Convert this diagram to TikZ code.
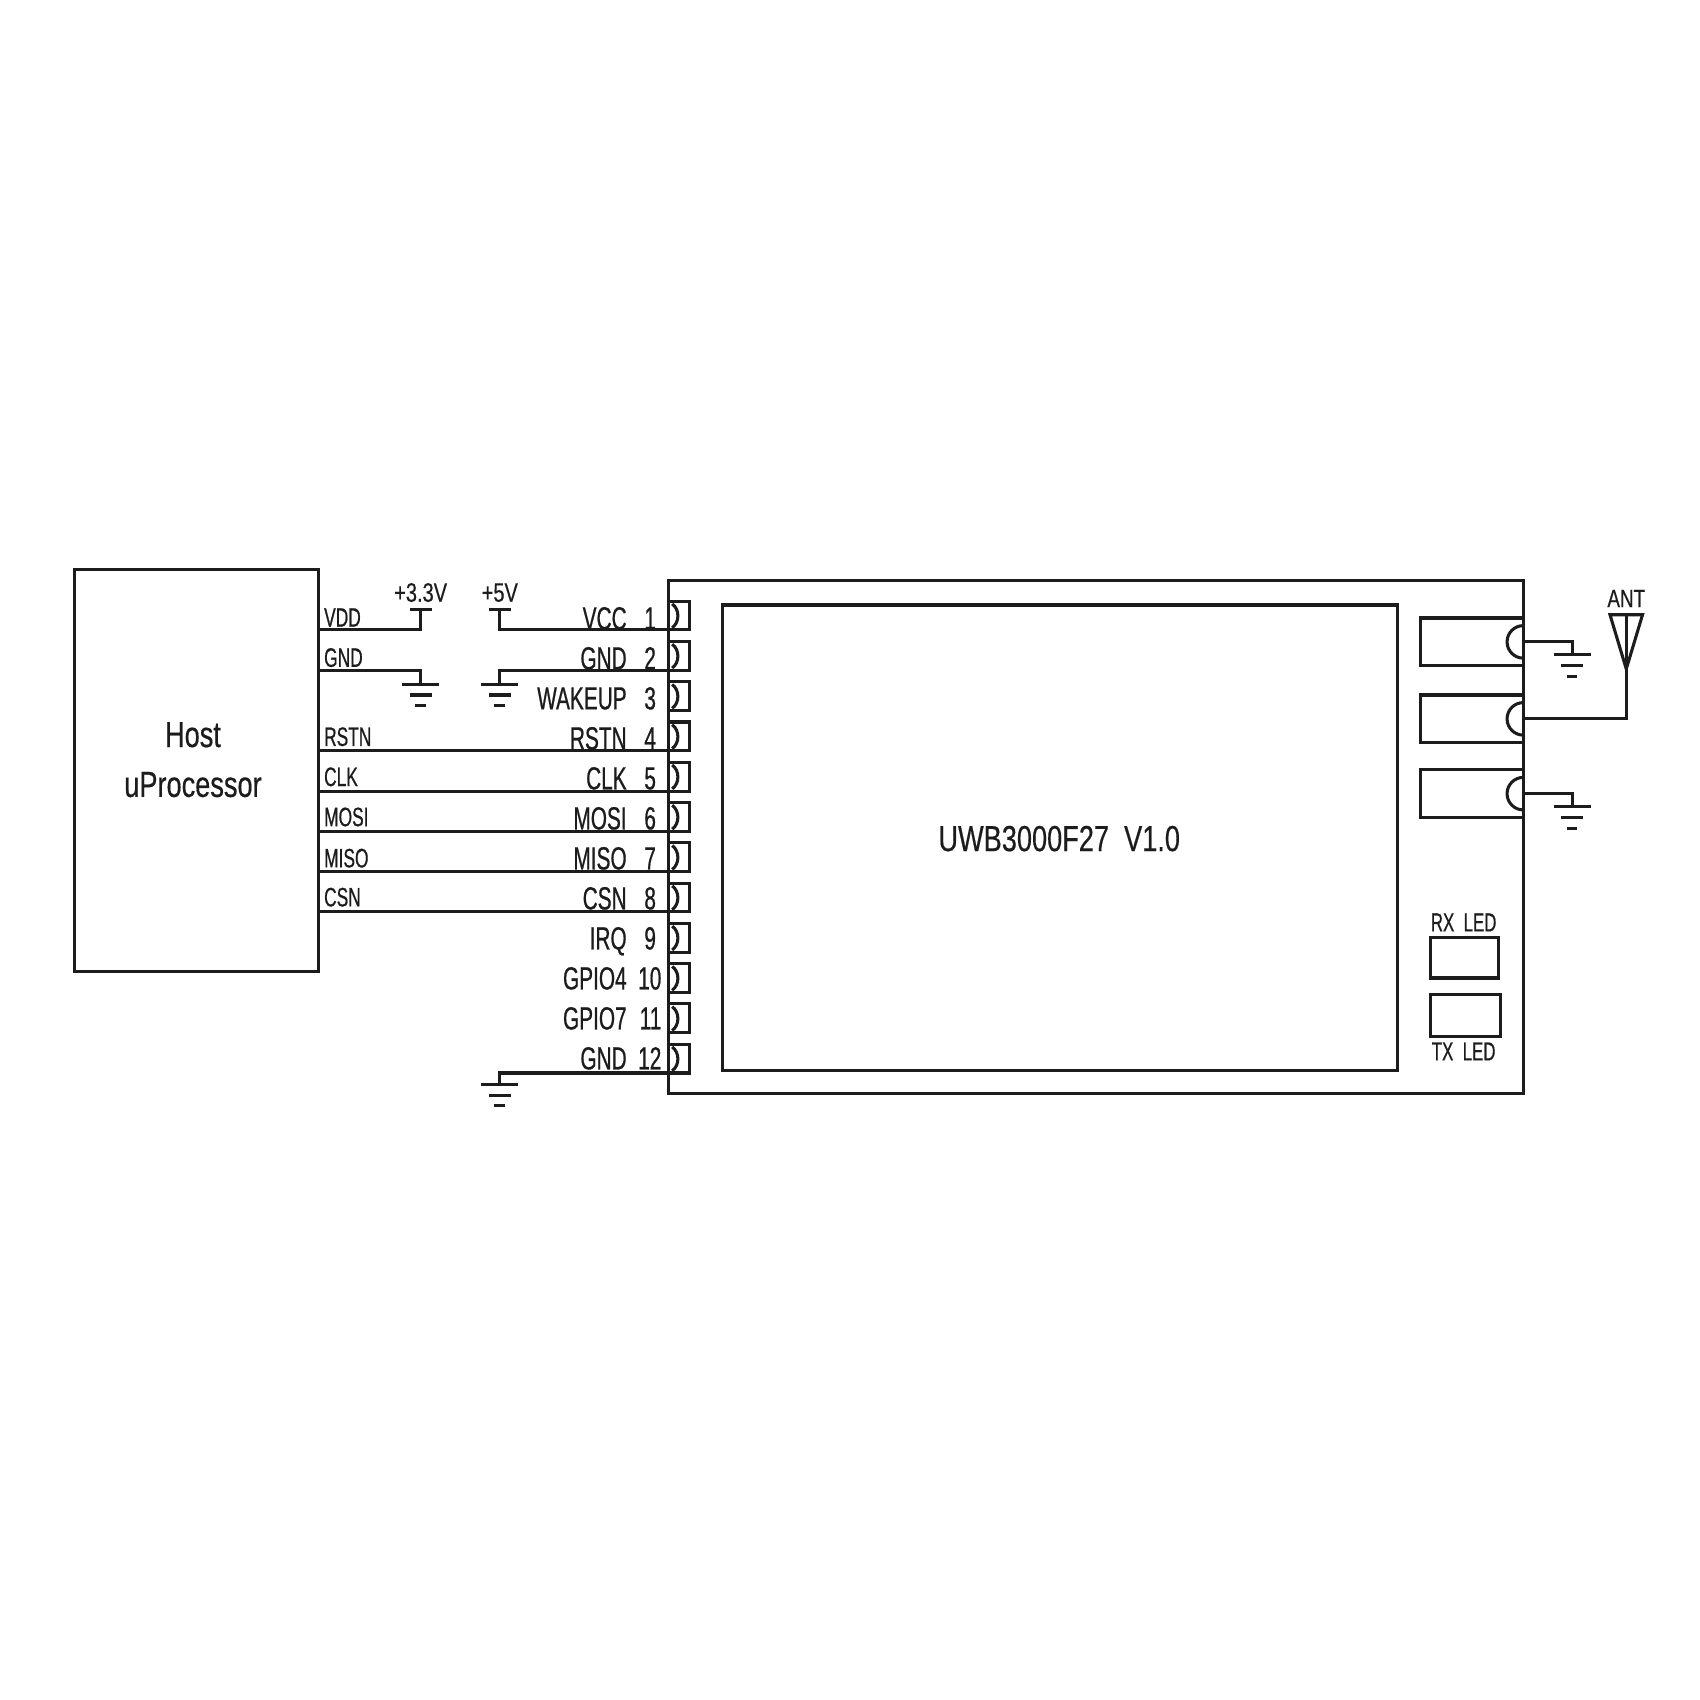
\documentclass[tikz,border=0pt]{standalone}
\usepackage{fontspec}
\usetikzlibrary{calc}
\setmainfont{Liberation Sans}
\newfontfamily\narrowA[FakeStretch=0.65,FakeBold=0.6]{Liberation Sans}
\newfontfamily\narrowB[FakeStretch=0.75,FakeBold=0.4]{Liberation Sans}
\definecolor{ink}{HTML}{1C1C1C}
\tikzset{
  x=0.01cm, y=-0.01cm,
  wire/.style={draw=ink, line width=0.8pt, line join=miter},
  box/.style={wire, rectangle, inner sep=0pt, outer sep=0pt, anchor=north west},
  pinbox/.style={wire, rectangle, inner sep=0pt, outer sep=0pt, anchor=south west, minimum width=0.19cm, minimum height=0.265cm},
  txt/.style={inner sep=0pt, outer sep=0pt, text=ink},
  pinname/.style={txt, anchor=base east, font=\narrowA\fontsize{8.4}{10}\selectfont},
  hostlabel/.style={txt, anchor=base west, font=\narrowA\fontsize{7}{9}\selectfont},
  powerlabel/.style={txt, anchor=base, font=\narrowB\fontsize{7}{9}\selectfont},
  ledlabel/.style={txt, anchor=base, font=\narrowA\fontsize{6.8}{9}\selectfont},
  biglabel/.style={txt, anchor=base, font=\narrowB\fontsize{9.5}{11}\selectfont},
  gndsym/.pic={
    \draw[wire] (-17,0) -- (17,0);
    \draw[wire] (-10,10) -- (10,10);
    \draw[wire] (-5,20) -- (5,20);
  },
  railbar/.pic={\draw[wire] (-10,0) -- (10,0);}
}
\begin{document}
\begin{tikzpicture}
\useasboundingbox (0,0) rectangle (1568,1568);
\fill[white] (0,0) rectangle (1568,1568);

% Host
\node[box, minimum width=2.25cm, minimum height=3.71cm] (host) at (69,525) {};
\node[biglabel] (hostA) at (178,689) {Host};
\node[biglabel] (hostB) at (178,735) {uProcessor};

% Module
\node[box, minimum width=7.88cm, minimum height=4.73cm] (module) at (617,535) {};
\node[box, minimum width=6.23cm, minimum height=4.29cm] (core) at (666,558) {};
\node[biglabel] (title) at (977,785) {UWB3000F27\ \ V1.0};

% Pins
\foreach \i/\name/\nx in {1/VCC/605,2/GND/605,3/WAKEUP/605,4/RSTN/605,5/CLK/605,6/MOSI/605,7/MISO/605,8/CSN/605,9/IRQ/605,10/GPIO4/610,11/GPIO7/610,12/GND/610}{
  \pgfmathsetmacro{\yb}{581+37.15*(\i-1)}
  \pgfmathsetmacro{\yt}{580.5+36.9*(\i-1)}
  \node[pinbox] (p\i) at (617,\yb) {};
  \draw[wire] (620,\yb-24) .. controls (627,\yb-19) and (627,\yb-7) .. (620,\yb-2);
  \node[pinname] (n\i) at (578,\yt) {\name};
  \node[pinname] (k\i) at (\nx,\yt) {\i};
}

% Host side labels
\node[hostlabel] (hVDD) at (299,578) {VDD};
\node[hostlabel] (hGND) at (299,615) {GND};
\node[hostlabel] (hRSTN) at (299,688) {RSTN};
\node[hostlabel] (hCLK) at (299,725) {CLK};
\node[hostlabel] (hMOSI) at (299,762) {MOSI};
\node[hostlabel] (hMISO) at (299,800) {MISO};
\node[hostlabel] (hCSN) at (299,836) {CSN};

% Bus wires
\foreach \i in {4,5,6,7,8}{
  \draw[wire] (p\i.south west) -- (host.east |- p\i.south west);
}

% Power rails
\coordinate (r33) at (388,562);
\coordinate (r5) at (461,562);
\coordinate (g33) at (388,631);
\coordinate (g2) at (461,631);
\coordinate (g12) at (461,1000);
\draw[wire] (host.east |- p1.south west) -| (r33);
\pic at (r33) {railbar};
\draw[wire] (p1.south west) -| (r5);
\pic at (r5) {railbar};
\node[powerlabel] (v33) at (388,555) {+3.3V};
\node[powerlabel] (v5) at (461,555) {+5V};
\draw[wire] (host.east |- p2.south west) -| (g33);
\pic at (g33) {gndsym};
\draw[wire] (p2.south west) -| (g2);
\pic at (g2) {gndsym};
\draw[wire] (p12.south west) -| (g12);
\pic at (g12) {gndsym};

% RF connectors
\node[box, minimum width=0.95cm, minimum height=0.44cm] (c1) at (1310,570) {};
\node[box, minimum width=0.95cm, minimum height=0.44cm] (c2) at (1310,641) {};
\node[box, minimum width=0.95cm, minimum height=0.44cm] (c3) at (1310,710) {};
\foreach \c in {c1,c2,c3}{
  \draw[wire] ($(\c.east)+(0,-15)$) arc[start angle=90, end angle=270, radius=0.15cm];
}
\coordinate (gr1) at (1450,604);
\coordinate (gr3) at (1450,744);
\coordinate (anttip) at (1500,617);
\coordinate (antL) at (1485,567);
\coordinate (antR) at (1515,567);
\coordinate (antM) at (1500,567);
\draw[wire] (c1.east) -| (gr1);
\pic at (gr1) {gndsym};
\draw[wire] (c3.east) -| (gr3);
\pic at (gr3) {gndsym};
\draw[wire] (c2.east) -| (anttip);
\draw[wire] (antL) -- (antR) -- (anttip) -- cycle;
\draw[wire] (antM) -- (anttip);
\node[powerlabel, font=\narrowB\fontsize{6.6}{8}\selectfont] (ant) at (1500,560) {ANT};

% LEDs
\node[box, minimum width=0.63cm, minimum height=0.37cm] (rx) at (1319,865) {};
\node[box, minimum width=0.65cm, minimum height=0.39cm] (tx) at (1319,917) {};
\node[ledlabel] (rxl) at (1350,859) {RX\ \ LED};
\node[ledlabel] (txl) at (1350,978) {TX\ \ LED};
\end{tikzpicture}
\end{document}
